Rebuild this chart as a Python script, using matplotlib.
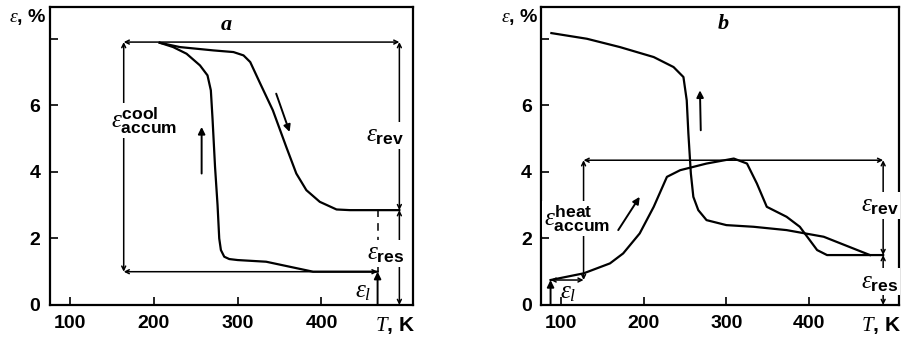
import matplotlib.pyplot as plt

plt.rcParams['font.family'] = ['Liberation Sans', 'DejaVu Sans']
plt.rcParams['mathtext.fontset'] = 'custom'
plt.rcParams['mathtext.rm'] = 'Liberation Sans'
plt.rcParams['mathtext.it'] = 'Liberation Serif:italic'
plt.rcParams['mathtext.bf'] = 'Liberation Sans:bold'

# panel a: strain vs temperature
a_cool_T = [467, 390, 362, 334, 300, 290, 284, 280, 278, 276, 273, 270, 268, 264, 255, 239, 223, 207]
a_cool_eps = [1.0, 1.0, 1.15, 1.3, 1.35, 1.38, 1.45, 1.65, 2.0, 3.0, 4.15, 5.6, 6.45, 6.9, 7.2, 7.55, 7.75, 7.88]
a_heat_T = [207, 231, 271, 295, 307, 315, 327, 342, 358, 370, 382, 398, 418, 434, 493]
a_heat_eps = [7.88, 7.75, 7.65, 7.6, 7.5, 7.3, 6.65, 5.85, 4.75, 3.95, 3.45, 3.1, 2.87, 2.85, 2.85]

# panel b
b_heat_T = [87, 127, 159, 175, 195, 212, 228, 244, 276, 309, 325, 337, 349, 373, 389, 398, 410, 422, 490]
b_heat_eps = [0.75, 0.95, 1.25, 1.55, 2.15, 2.95, 3.85, 4.05, 4.25, 4.4, 4.25, 3.65, 2.95, 2.65, 2.35, 2.05, 1.65, 1.5, 1.5]
b_cool_T = [474, 418, 373, 333, 300, 276, 266, 260, 257, 254, 252, 248, 236, 212, 171, 131, 88]
b_cool_eps = [1.5, 2.05, 2.25, 2.35, 2.4, 2.55, 2.85, 3.25, 3.95, 5.15, 6.15, 6.85, 7.15, 7.45, 7.75, 8.0, 8.17]

xticks = [100, 200, 300, 400]
yticks = [0, 2, 4, 6, 8]
ylabels = ['0', '2', '4', '6', '']

fig = plt.figure(figsize=(9.07, 3.4), dpi=100)
axa = fig.add_axes([0.0551, 0.103, 0.40, 0.876])
axb = fig.add_axes([0.597, 0.103, 0.394, 0.876])


def setup(ax):
    ax.set_xlim(76, 509)
    ax.set_ylim(0, 8.95)
    ax.set_xticks(xticks)
    ax.set_yticks(yticks)
    ax.set_yticklabels(ylabels)
    ax.tick_params(direction='in', length=6, width=1.2, labelsize=14, pad=7)
    for lab in ax.get_xticklabels() + ax.get_yticklabels():
        lab.set_fontweight('bold')
    for s in ax.spines.values():
        s.set_linewidth(1.6)
    ax.text(50, 8.65, r'$\varepsilon$, %', fontsize=14, fontweight='bold',
            ha='center', va='center', clip_on=False)
    ax.text(488, -0.62, r'$T$, K', fontsize=15, fontweight='bold',
            ha='center', va='center', clip_on=False)


def darrow(ax, p1, p2):
    ax.annotate('', xy=p2, xytext=p1,
                arrowprops=dict(arrowstyle='<->', lw=1.1, color='black',
                                shrinkA=0, shrinkB=0, mutation_scale=7))


def parrow(ax, p1, p2):
    ax.annotate('', xy=p2, xytext=p1,
                arrowprops=dict(arrowstyle='-|>', lw=1.4, color='black',
                                shrinkA=0, shrinkB=0, mutation_scale=10))


lbl = dict(fontsize=18, color='black')
wbox = dict(facecolor='white', edgecolor='none', pad=1)

# ---- panel a
setup(axa)
axa.plot(a_cool_T, a_cool_eps, color='black', lw=1.6)
axa.plot(a_heat_T, a_heat_eps, color='black', lw=1.6)
darrow(axa, (164, 7.9), (493, 7.9))
darrow(axa, (164, 1.0), (164, 7.9))
darrow(axa, (164, 1.0), (467, 1.0))
darrow(axa, (493, 2.85), (493, 7.9))
darrow(axa, (493, 0), (493, 2.85))
axa.plot([467, 467], [1.0, 2.85], color='black', lw=1.1, ls=(0, (5, 4)))
parrow(axa, (467, 0), (467, 1.0))
parrow(axa, (257, 3.95), (257, 5.35))
parrow(axa, (346, 6.35), (362, 5.2))
axa.text(286, 8.4, 'a', fontsize=16, fontstyle='italic', fontweight='bold',
         family='Liberation Serif', ha='center', va='center')
axa.text(188, 5.55, r'$\varepsilon^{\mathbf{cool}}_{\mathbf{accum}}$',
         ha='center', va='center', bbox=wbox, **lbl)
axa.text(499, 5.1, r'$\varepsilon_{\mathbf{rev}}$', ha='right', va='center',
         bbox=wbox, **lbl)
axa.text(499, 1.55, r'$\varepsilon_{\mathbf{res}}$', ha='right', va='center',
         bbox=wbox, **lbl)
axa.text(459, 0.42, r'$\varepsilon_l$', ha='right', va='center', **lbl)

# ---- panel b
setup(axb)
axb.plot(b_heat_T, b_heat_eps, color='black', lw=1.6)
axb.plot(b_cool_T, b_cool_eps, color='black', lw=1.6)
darrow(axb, (127, 4.35), (490, 4.35))
darrow(axb, (127, 0.75), (127, 4.35))
darrow(axb, (87, 0.75), (127, 0.75))
darrow(axb, (490, 1.5), (490, 4.35))
darrow(axb, (490, 0), (490, 1.5))
parrow(axb, (87, 0), (87, 0.75))
parrow(axb, (169, 2.25), (195, 3.25))
parrow(axb, (269, 5.25), (268, 6.45))
axb.text(296, 8.45, 'b', fontsize=16, fontstyle='italic', fontweight='bold',
         family='Liberation Serif', ha='center', va='center')
axb.text(119, 2.6, r'$\varepsilon^{\mathbf{heat}}_{\mathbf{accum}}$',
         ha='center', va='center', bbox=wbox, **lbl)
axb.text(509, 3.0, r'$\varepsilon_{\mathbf{rev}}$', ha='right', va='center',
         bbox=wbox, **lbl)
axb.text(509, 0.7, r'$\varepsilon_{\mathbf{res}}$', ha='right', va='center',
         bbox=wbox, **lbl)
axb.text(108, 0.4, r'$\varepsilon_l$', ha='center', va='center', **lbl)

fig.savefig('out.png', dpi=100)
